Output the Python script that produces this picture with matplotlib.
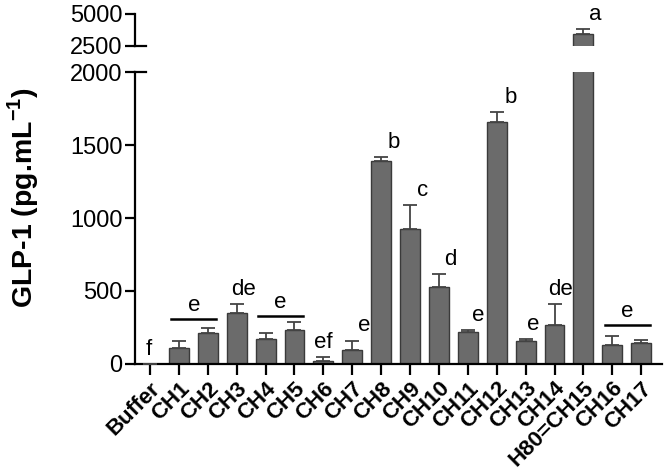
import matplotlib
matplotlib.use("Agg")
import matplotlib.pyplot as plt
import numpy as np

plt.rcParams["font.family"] = ["Liberation Sans", "DejaVu Sans"]
plt.rcParams["mathtext.fontset"] = "custom"
plt.rcParams["mathtext.bf"] = "Liberation Sans:bold"

labels = ["Buffer", "CH1", "CH2", "CH3", "CH4", "CH5", "CH6", "CH7", "CH8", "CH9",
          "CH10", "CH11", "CH12", "CH13", "CH14", "H80=CH15", "CH16", "CH17"]
values = [0, 107, 212, 351, 169, 231, 23, 96, 1390, 922,
          530, 217, 1658, 155, 265, 3440, 128, 142]
errors = [0, 48, 32, 58, 41, 59, 27, 64, 26, 167,
          86, 14, 66, 16, 144, 390, 66, 20]

# letters over single bars: (index, letter, x shift)
letters = [(0, "f", -0.05), (3, "de", 0.25), (6, "ef", 0.0), (7, "e", 0.4),
           (8, "b", 0.45), (9, "c", 0.45), (10, "d", 0.4), (11, "e", 0.35),
           (12, "b", 0.5), (13, "e", 0.25), (14, "de", 0.2), (15, "a", 0.4)]
# letters over groups: (first, last, letter, line height)
groups = [(1, 2, "e", 308), (4, 5, "e", 331), (16, 17, "e", 267)]

x = np.arange(len(labels))
bar_color = "#6b6b6b"
edge = "#3a3a3a"

fig = plt.figure(figsize=(6.64, 4.75), dpi=100)
ax = fig.add_axes([0.2033, 0.2337, 0.7937, 0.6147])
axt = fig.add_axes([0.2033, 0.9032, 0.7937, 0.0674])

for a in (ax, axt):
    a.bar(x, values, width=0.69, color=bar_color, edgecolor=edge, linewidth=1.0, zorder=2)
    a.errorbar(x, values, yerr=[np.zeros(len(x)), errors], fmt="none",
               ecolor="#444444", elinewidth=1.3, capsize=5, capthick=1.3, zorder=3)
    a.set_xlim(-0.52, 17.72)
    a.spines["top"].set_visible(False)
    a.spines["right"].set_visible(False)
    a.spines["left"].set_linewidth(1.6)
    a.tick_params(axis="y", length=7, width=1.6, labelsize=17, pad=2)

ax.set_ylim(0, 2000)
ax.set_yticks([0, 500, 1000, 1500, 2000])
ax.spines["bottom"].set_linewidth(1.6)
ax.set_xticks(x)
ax.set_xticklabels(labels, rotation=45, ha="right", rotation_mode="anchor",
                   fontsize=16, fontweight="bold")
ax.tick_params(axis="x", length=8, width=1.6, pad=2)

axt.set_ylim(2500, 5000)
axt.set_yticks([2500, 5000])
axt.spines["bottom"].set_visible(False)
axt.set_xticks([])
axt.patch.set_alpha(0)

# break marks
ax.plot([0, 0.02], [1, 1], transform=ax.transAxes, color="black", lw=1.6, clip_on=False)
axt.plot([0, 0.02], [0, 0], transform=axt.transAxes, color="black", lw=1.6, clip_on=False)

for i, t, dx in letters:
    a = axt if values[i] > 2500 else ax
    a.annotate(t, (x[i] + dx, values[i] + errors[i]), xytext=(0, 3),
               textcoords="offset points", ha="center", va="bottom", fontsize=16)

for i, j, t, h in groups:
    ax.plot([x[i] - 0.27, x[j] + 0.3], [h, h], color="black", lw=1.8)
    ax.annotate(t, ((x[i] + x[j]) / 2 + 0.02, h), xytext=(0, 2),
                textcoords="offset points", ha="center", va="bottom", fontsize=16)

fig.text(0.035, 0.584, "GLP-1 (pg.mL$^{\\mathbf{-1}}$)", rotation=90, ha="center",
         va="center", fontsize=20.5, fontweight="bold")

fig.savefig("out.png", dpi=100)
